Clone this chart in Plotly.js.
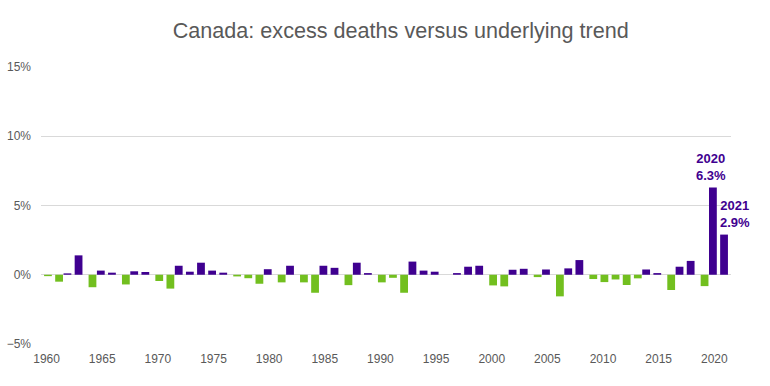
<!DOCTYPE html>
<html>
<head>
<meta charset="utf-8">
<script src="https://cdn.plot.ly/plotly-3.0.1.min.js"></script>
<style>html,body{margin:0;padding:0;background:#fff;}#chart{width:770px;height:386px;}</style>
</head>
<body>
<div id="chart"></div>
<script>
// Years and excess deaths versus underlying trend (%)
var years = [1960,1961,1962,1963,1964,1965,1966,1967,1968,1969,
             1970,1971,1972,1973,1974,1975,1976,1977,1978,1979,
             1980,1981,1982,1983,1984,1985,1986,1987,1988,1989,
             1990,1991,1992,1993,1994,1995,1996,1997,1998,1999,
             2000,2001,2002,2003,2004,2005,2006,2007,2008,2009,
             2010,2011,2012,2013,2014,2015,2016,2017,2018,2019,
             2020,2021];
var excess = [-0.1,-0.5,0.1,1.4,-0.9,0.3,0.15,-0.7,0.25,0.2,
              -0.45,-1.0,0.65,0.22,0.87,0.3,0.15,-0.12,-0.25,-0.65,
              0.4,-0.55,0.65,-0.55,-1.3,0.65,0.5,-0.75,0.87,0.12,
              -0.55,-0.22,-1.3,0.95,0.3,0.22,0,0.12,0.58,0.65,
              -0.77,-0.84,0.36,0.43,-0.17,0.38,-1.56,0.46,1.06,-0.31,
              -0.53,-0.34,-0.74,-0.26,0.38,0.12,-1.1,0.58,1.0,-0.82,
              6.3,2.9];
var labelYears = [2020, 2021];
var labelValues = [6.3, 2.9];

var purple = '#3f0090';
var green = '#72bf1f';

var posY = excess.map(function(v){ return v > 0 ? v : null; });
var negY = excess.map(function(v){ return v < 0 ? v : null; });

var barW = 0.7;
var traces = [
  {type:'bar', x: years, y: posY, width: barW, offset: -0.125 - barW/2,
   marker:{color: purple, line:{width:0}}, hoverinfo:'x+y', showlegend:false},
  {type:'bar', x: years, y: negY, width: barW, offset: 0.125 - barW/2,
   marker:{color: green, line:{width:0}}, hoverinfo:'x+y', showlegend:false}
];

var annFont = {family:'Liberation Sans, Arial, sans-serif', size:13, color: purple};
var annotations = [];
var xs = [-3, 10];
labelYears.forEach(function(yr, i){
  annotations.push({x: yr, y: labelValues[i], xref:'x', yref:'y',
    text:'<b>' + yr + '</b><br><b>' + labelValues[i].toFixed(1) + '%</b>',
    showarrow:false, font: annFont, align:'center', xanchor:'center', yanchor:'middle',
    xshift: xs[i], yshift: 21});
});

var layout = {
  width: 770, height: 386,
  margin: {l: 41, r: 39, t: 67, b: 42, pad: 0},
  paper_bgcolor: '#ffffff', plot_bgcolor: '#ffffff',
  font: {family: 'Liberation Sans, Arial, sans-serif', size: 12, color: '#595959'},
  title: {text: 'Canada: excess deaths versus underlying trend',
          font: {family: 'Liberation Sans, Arial, sans-serif', size: 21.6, color: '#595959'},
          x: 401.5/770, xanchor: 'center', xref: 'paper', y: 1 - 30/386, yanchor: 'middle', yref: 'container'},
  barmode: 'overlay',
  xaxis: {range: [1959.5, 2021.5], tick0: 1960, dtick: 5, tickmode: 'linear',
          showgrid: false, zeroline: false, showline: false, ticks: '',
          tickfont: {size: 12, color: '#595959'}, ticklabelstandoff: 6, fixedrange: true},
  yaxis: {range: [-5, 15], tick0: 0, dtick: 5, tickmode: 'linear', ticksuffix: '%',
          showgrid: true, gridcolor: '#d9d9d9', gridwidth: 1,
          zeroline: true, zerolinecolor: '#d9d9d9', zerolinewidth: 1,
          showline: false, ticks: '', tickfont: {size: 12, color: '#595959'},
          ticklabelstandoff: 9, fixedrange: true},
  annotations: annotations
};

Plotly.newPlot('chart', traces, layout, {displayModeBar: false, staticPlot: true});
</script>
</body>
</html>
